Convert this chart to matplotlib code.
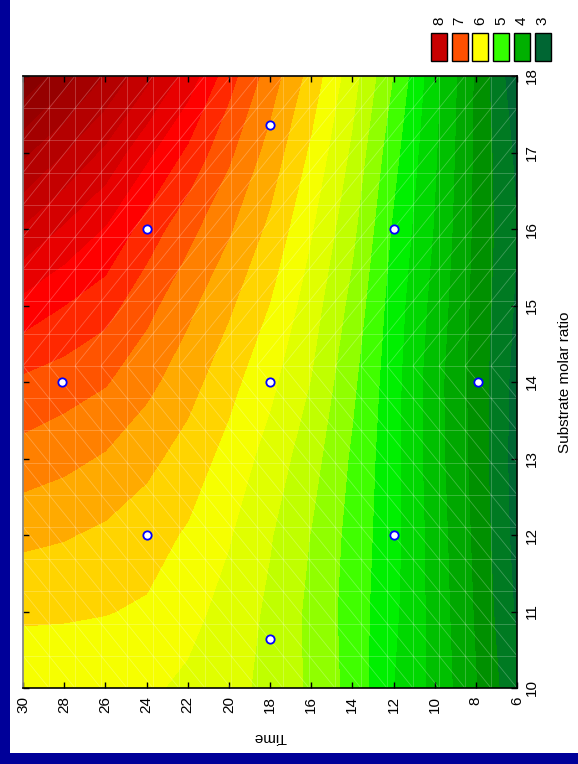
import numpy as np
import matplotlib
matplotlib.use("Agg")
import matplotlib.pyplot as plt
from matplotlib.colors import ListedColormap, BoundaryNorm
from matplotlib.patches import Rectangle
from matplotlib.collections import LineCollection

plt.rcParams['font.family'] = ['Liberation Sans', 'DejaVu Sans']

# response surface values (rows = substrate molar ratio, cols = time)
time_vals = [6, 8, 10, 12, 14, 16, 18, 20, 22, 24, 26, 28, 30]
ratio_vals = [10, 11, 12, 13, 14, 15, 16, 17, 18]
z_ratio10 = [3.55, 4.01, 4.43, 4.75, 5.16, 5.45, 5.68, 5.83, 5.95, 6.04, 6.07, 6.08, 6.08]
z_ratio11 = [3.46, 3.97, 4.41, 4.80, 5.14, 5.44, 5.70, 5.91, 6.08, 6.22, 6.26, 6.28, 6.29]
z_ratio12 = [3.40, 3.94, 4.39, 4.83, 5.16, 5.49, 5.77, 6.02, 6.22, 6.35, 6.45, 6.52, 6.56]
z_ratio13 = [3.38, 3.91, 4.36, 4.83, 5.21, 5.60, 5.90, 6.16, 6.39, 6.57, 6.72, 6.82, 6.90]
z_ratio14 = [3.40, 3.90, 4.35, 4.84, 5.30, 5.74, 6.06, 6.33, 6.60, 6.82, 7.02, 7.12, 7.20]
z_ratio15 = [3.46, 3.92, 4.41, 4.88, 5.42, 5.87, 6.24, 6.54, 6.81, 7.08, 7.35, 7.50, 7.66]
z_ratio16 = [3.50, 3.94, 4.48, 4.96, 5.56, 6.02, 6.44, 6.78, 7.08, 7.39, 7.73, 7.96, 8.22]
z_ratio17 = [3.44, 3.95, 4.53, 5.08, 5.70, 6.20, 6.65, 7.05, 7.45, 7.81, 8.19, 8.50, 8.80]
z_ratio18 = [3.30, 3.96, 4.58, 5.24, 5.85, 6.40, 6.88, 7.35, 7.90, 8.32, 8.73, 9.11, 9.45]

# experimental design points
design_time = [28.09, 24, 24, 18, 18, 18, 12, 12, 7.91]
design_ratio = [14, 16, 12, 17.36, 14, 10.64, 16, 12, 14]

# legend
legend_labels = ['8', '7', '6', '5', '4', '3']
legend_colors = ['#c80000', '#ff5000', '#ffff00', '#33ff00', '#00b000', '#006633']

band_colors = ['#005c2e', '#006633', '#007a22', '#009000', '#00a800', '#00c000',
               '#00d800', '#00f000', '#40ff00', '#90ff00', '#c0ff00', '#e0ff00',
               '#f6ff00', '#ffd400', '#ffaa00', '#ff8000', '#ff5400', '#ff2800',
               '#ff0000', '#e80000', '#d40000', '#c40000', '#b40000', '#a40000',
               '#960000', '#880000']
levels = np.arange(3.0, 9.51, 0.25)

W, H = 578, 764
fig = plt.figure(figsize=(W / 100, H / 100), dpi=100, facecolor='#000099')
fig.patches.append(Rectangle((10 / W, 11 / H), 1 - 10 / W, 1 - 11 / H,
                             transform=fig.transFigure, facecolor='white',
                             edgecolor='none', zorder=-10))

ax = fig.add_axes([23 / W, (H - 688) / H, (517 - 23) / W, (688 - 76) / H])
ax.set_zorder(1)

Z = np.array([z_ratio10, z_ratio11, z_ratio12, z_ratio13, z_ratio14,
              z_ratio15, z_ratio16, z_ratio17, z_ratio18])
cmap = ListedColormap(band_colors)
norm = BoundaryNorm(levels, cmap.N)
ax.contourf(time_vals, ratio_vals, Z, levels=levels, cmap=cmap, norm=norm, extend='both')

# faint triangulation mesh like the original rendering
n = 19
g = np.linspace(0, 1, n + 1)
segs = []
for v in g:
    segs.append([(v, 0), (v, 1)])
    segs.append([(0, v), (1, v)])
for i in range(n):
    for j in range(n):
        if j >= 10:
            segs.append([(g[i], g[j]), (g[i + 1], g[j + 1])])
        else:
            segs.append([(g[i], g[j + 1]), (g[i + 1], g[j])])
ax.add_collection(LineCollection(segs, colors='white', linewidths=0.6, alpha=0.25,
                                 transform=ax.transAxes, zorder=2))

ax.plot(design_time, design_ratio, 'o', markerfacecolor='white', markeredgecolor='#0000ff',
        markersize=6, markeredgewidth=1.3, zorder=5, clip_on=False)

ax.set_xlim(30, 6)
ax.set_ylim(10, 18)
ax.set_xticks(np.arange(30, 5, -2))
ax.set_yticks(np.arange(10, 19, 1))
ax.tick_params(axis='both', direction='in', length=4, width=1, colors='black',
               top=True, bottom=True, left=True, right=True,
               labelleft=False, labelright=True, labelsize=11)
ax.tick_params(axis='x', pad=6, labelrotation=90)
ax.tick_params(axis='y', pad=6, labelrotation=90)
for lab in ax.get_yticklabels():
    lab.set_verticalalignment('center')
for s in ['top', 'right', 'bottom']:
    ax.spines[s].set_color('black')
    ax.spines[s].set_linewidth(1.2)
ax.spines['left'].set_color('#808080')
ax.spines['left'].set_linewidth(1.2)

fig.text(270 / W, (H - 737) / H, 'Time', rotation=180, ha='center', va='center', fontsize=11)
fig.text(565 / W, (H - 382) / H, 'Substrate molar ratio', rotation=90,
         ha='center', va='center', fontsize=11)

for i, (lab, col) in enumerate(zip(legend_labels, legend_colors)):
    x0 = 431 + i * 20.7
    fig.patches.append(Rectangle((x0 / W, (H - 61) / H), 16 / W, 28 / H,
                                 transform=fig.transFigure, facecolor=col,
                                 edgecolor='black', linewidth=1))
    fig.text((x0 + 8) / W, (H - 21) / H, lab, rotation=90, ha='center', va='center',
             fontsize=11)

fig.savefig('out.png', dpi=100, facecolor=fig.get_facecolor())
